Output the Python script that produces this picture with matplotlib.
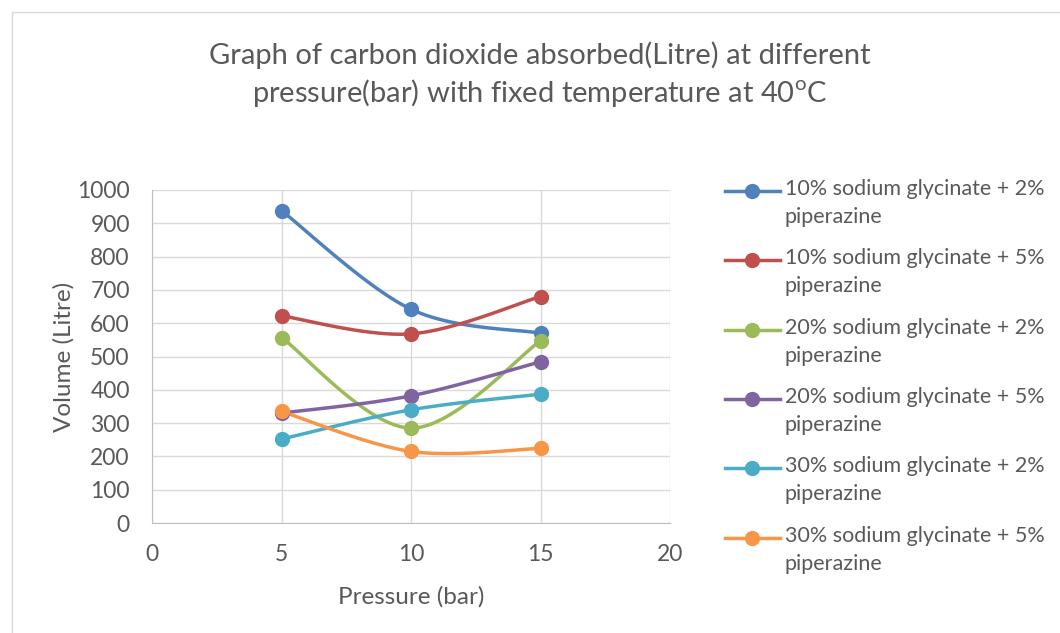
import matplotlib
matplotlib.use("Agg")
import matplotlib.pyplot as plt
import numpy as np
from matplotlib.lines import Line2D
from matplotlib.patches import Rectangle

plt.rcParams['font.family'] = ['Lato', 'DejaVu Sans']

pressure = [5, 10, 15]
series_names = [
    "10% sodium glycinate + 2%\npiperazine",
    "10% sodium glycinate + 5%\npiperazine",
    "20% sodium glycinate + 2%\npiperazine",
    "20% sodium glycinate + 5%\npiperazine",
    "30% sodium glycinate + 2%\npiperazine",
    "30% sodium glycinate + 5%\npiperazine",
]
vol_10_2 = [938, 642, 570]
vol_10_5 = [622, 568, 680]
vol_20_2 = [557, 285, 547]
vol_20_5 = [330, 382, 484]
vol_30_2 = [252, 340, 387]
vol_30_5 = [335, 215, 224]
all_series = [vol_10_2, vol_10_5, vol_20_2, vol_20_5, vol_30_2, vol_30_5]
colors = ["#4F81BD", "#C0504D", "#9BBB59", "#8064A2", "#4BACC6", "#F79646"]
W, H = 1060, 633


def smooth(xs, ys, n=40):
    # bezier smoothing like the spreadsheet's "smoothed line"
    p = np.column_stack([xs, ys]).astype(float)
    p = np.vstack([p[0], p, p[-1]])
    out = []
    t = np.linspace(0, 1, n)[:, None]
    for i in range(1, len(p) - 2):
        p0, p1, p2, p3 = p[i - 1], p[i], p[i + 1], p[i + 2]
        c1 = p1 + (p2 - p0) / 6.0
        c2 = p2 - (p3 - p1) / 6.0
        seg = ((1 - t) ** 3) * p1 + 3 * ((1 - t) ** 2) * t * c1 + 3 * (1 - t) * t ** 2 * c2 + t ** 3 * p2
        out.append(seg)
    out = np.vstack(out)
    return out[:, 0], out[:, 1]


fig = plt.figure(figsize=(W / 100, H / 100), dpi=100)
fig.patches.append(Rectangle((12 / W, -0.1), 1.2, 1 - 12 / H + 0.1, transform=fig.transFigure,
                             fill=False, edgecolor="#d9d9d9", lw=1))
ax = fig.add_axes([152 / W, 1 - 523 / H, (670 - 152) / W, (523 - 190) / H])

for ys, c in zip(all_series, colors):
    sx, sy = smooth(pressure, ys)
    ax.plot(sx, sy, color=c, lw=2.5, solid_capstyle='round', zorder=3)
    ax.plot(pressure, ys, 'o', color=c, ms=10, zorder=4)

ax.set_xlim(0, 20)
ax.set_ylim(0, 1000)
ax.set_xticks(range(0, 21, 5))
ax.set_yticks(range(0, 1001, 100))
ax.grid(True, color="#d9d9d9", lw=1)
ax.set_axisbelow(True)
for s in ["top", "right"]:
    ax.spines[s].set_visible(False)
for s in ["left", "bottom"]:
    ax.spines[s].set_color("#bfbfbf")
ax.tick_params(length=0, labelsize=16.5, colors="#595959")
ax.tick_params(axis="x", pad=15)
ax.tick_params(axis="y", pad=16)
ax.set_xlabel("Pressure (bar)", fontsize=17.5, color="#595959", labelpad=15)
ax.set_ylabel("Volume (Litre)", fontsize=17.5, color="#595959", labelpad=2)

fig.text(540 / W, 1 - 75 / H,
         "Graph of carbon dioxide absorbed(Litre) at different\npressure(bar) with fixed temperature at 40$^{\\mathregular{o}}$C",
         ha="center", va="center", fontsize=21, color="#595959", linespacing=1.3)

# legend drawn entry by entry: handle sits on the first text line
for i, (name, c) in enumerate(zip(series_names, colors)):
    y = 1 - (191 + 69.3 * i) / H
    fig.add_artist(Line2D([725 / W, 780 / W], [y, y], transform=fig.transFigure,
                          color=c, lw=2.5))
    fig.add_artist(Line2D([752 / W], [y], transform=fig.transFigure,
                          color=c, marker='o', ms=10))
    fig.text(785 / W, y + 12 / H, name, ha="left", va="top", fontsize=15.5,
             color="#595959", linespacing=1.5)

fig.savefig("out.png", dpi=100)
